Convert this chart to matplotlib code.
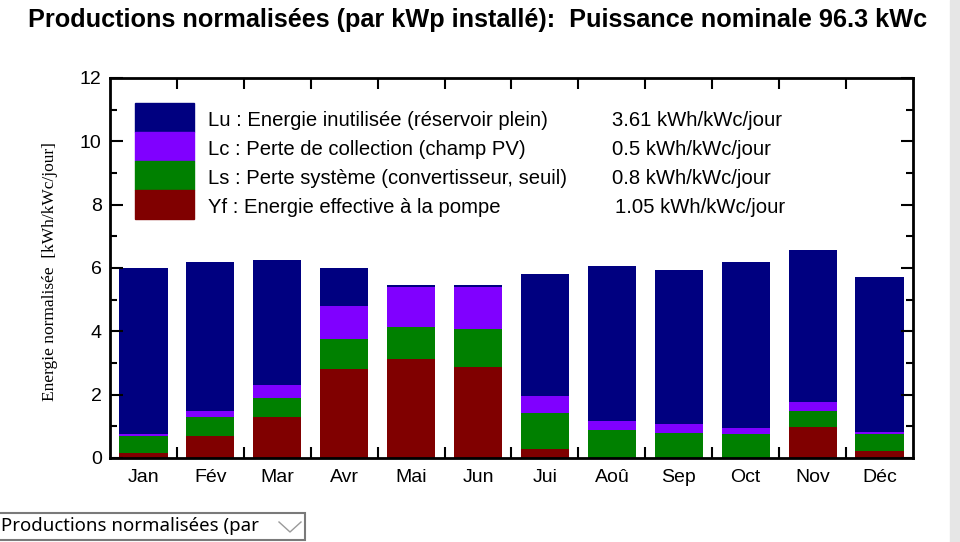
import matplotlib
matplotlib.use('Agg')
import matplotlib.pyplot as plt
from matplotlib.patches import Rectangle
from matplotlib.lines import Line2D
from matplotlib.ticker import MultipleLocator, FixedLocator

plt.rcParams['font.family'] = ['Liberation Sans', 'DejaVu Sans']

mois = ['Jan', 'Fév', 'Mar', 'Avr', 'Mai', 'Jun', 'Jui', 'Aoû', 'Sep', 'Oct', 'Nov', 'Déc']

# energies normalisees par mois, kWh/kWc/jour
yf = [0.15, 0.69, 1.29, 2.81, 3.12, 2.86, 0.27, 0.00, 0.00, 0.00, 0.99, 0.22]
ls = [0.54, 0.60, 0.61, 0.96, 1.01, 1.21, 1.14, 0.87, 0.80, 0.76, 0.48, 0.55]
lc = [0.07, 0.19, 0.41, 1.03, 1.28, 1.34, 0.56, 0.30, 0.26, 0.18, 0.31, 0.06]
lu = [5.24, 4.70, 3.93, 1.21, 0.06, 0.06, 3.85, 4.90, 4.89, 5.25, 4.78, 4.88]

legende = ['Lu : Energie inutilisée (réservoir plein)',
           'Lc : Perte de collection (champ PV)',
           'Ls : Perte système (convertisseur, seuil)',
           'Yf : Energie effective à la pompe']
moyennes = ['3.61 kWh/kWc/jour', '0.5 kWh/kWc/jour', '0.8 kWh/kWc/jour', '1.05 kWh/kWc/jour']
couleurs = ['#000080', '#8000ff', '#008000', '#800000']

fig = plt.figure(figsize=(9.6, 5.42), dpi=100)
ax = fig.add_axes([110/960, 84/542, 803/960, 380/542])

x = range(len(mois))
bas = [0.0] * len(mois)
for serie, c in zip([yf, ls, lc, lu], couleurs[::-1]):
    ax.bar(x, serie, 0.72, bottom=bas, color=c, edgecolor='none')
    bas = [b + v for b, v in zip(bas, serie)]

ax.set_xlim(-0.5, 11.5)
ax.set_ylim(0, 12)
ax.set_xticks(list(x))
ax.set_xticklabels(mois, fontsize=14)
ax.xaxis.set_minor_locator(FixedLocator([i + 0.5 for i in range(11)]))
ax.yaxis.set_major_locator(MultipleLocator(2))
ax.yaxis.set_minor_locator(MultipleLocator(1))
ax.tick_params(axis='x', which='major', length=0, pad=8)
ax.tick_params(axis='x', which='minor', direction='in', length=8, width=1.5, top=True, bottom=True)
ax.tick_params(axis='y', which='major', direction='in', length=9, width=1.5, right=True, labelsize=14, pad=6)
ax.tick_params(axis='y', which='minor', direction='in', length=5, width=1.5, right=True)
for s in ax.spines.values():
    s.set_linewidth(2)

fig.text(50/960, 1 - 272/542, 'Energie normalisée  [kWh/kWc/jour]', family='Liberation Serif',
         fontsize=12.5, rotation=90, ha='center', va='center')

# legende maison avec moyennes annuelles
hauteur = 0.0765
for i, (txt, moy, c) in enumerate(zip(legende, moyennes, couleurs)):
    y0 = 0.934 - (i + 1) * hauteur
    ax.add_patch(Rectangle((0.031, y0), 0.0735, hauteur, transform=ax.transAxes,
                           color=c, clip_on=False))
    yb = y0 + hauteur / 2 - 0.021
    ax.text(0.122, yb, txt, transform=ax.transAxes, fontsize=14.6, va='baseline')
    dx = 0.004 if i == 3 else 0.0
    ax.text(0.625 + dx, yb, moy, transform=ax.transAxes, fontsize=14.6, va='baseline')

fig.text(28/960, 1 - 20/542, 'Productions normalisées (par kWp installé):  Puissance nominale 96.3 kWc',
         fontsize=18.2, fontweight='bold', va='center', ha='left')

# bandeau gris a droite et menu deroulant en bas
fig.add_artist(Rectangle((950/960, 0), 10/960, 1, transform=fig.transFigure,
                         color='#e6e6e6'))
fig.add_artist(Rectangle((-0.01, 2/542), 0.01 + 305/960, 27/542, transform=fig.transFigure,
                         facecolor='white', edgecolor='#7a7a7a', linewidth=1.5))
fig.text(1/960, 1 - 526/542, 'Productions normalisées (par', family='Noto Sans',
         fontsize=13.4, va='center', ha='left')
fig.add_artist(Line2D([279/960, 290/960, 301/960], [1 - 522/542, 1 - 532/542, 1 - 522/542],
                      transform=fig.transFigure, color='#9a9a9a', linewidth=1))

fig.savefig('out.png', dpi=100)
